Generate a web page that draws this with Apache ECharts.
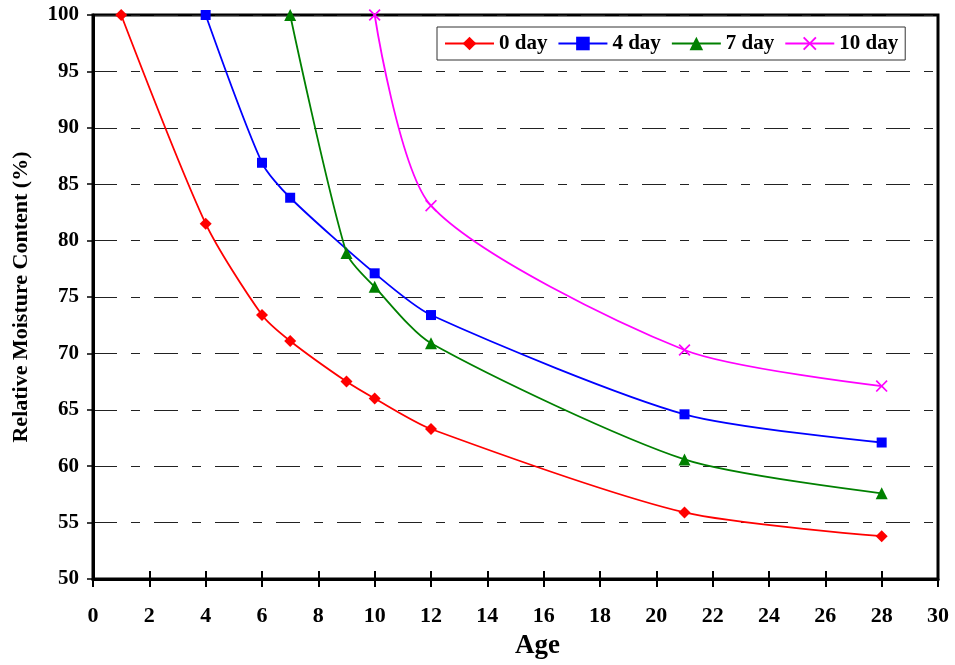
<!DOCTYPE html>
<html>
<head>
<meta charset="utf-8">
<script src="https://cdn.jsdelivr.net/npm/echarts@6/dist/echarts.min.js"></script>
<style>
  html, body { margin: 0; padding: 0; background: #fff; }
  #chart { width: 955px; height: 665px; }
</style>
</head>
<body>
<div id="chart"></div>
<script>
// Curing age (days) and relative moisture content (%) for each drying start day
const seriesNames = ['0 day', '4 day', '7 day', '10 day'];

const age0 = [1, 4, 6, 7, 9, 10, 12, 21, 28];
const rmc0 = [100, 81.5, 73.4, 71.1, 67.5, 66.0, 63.3, 55.9, 53.8];

const age4 = [4, 6, 7, 10, 12, 21, 28];
const rmc4 = [100, 86.9, 83.8, 77.1, 73.4, 64.6, 62.1];

const age7 = [7, 9, 10, 12, 21, 28];
const rmc7 = [100, 78.9, 75.9, 70.9, 60.6, 57.6];

const age10 = [10, 12, 21, 28];
const rmc10 = [100, 83.1, 70.3, 67.1];

const xTicks = { min: 0, max: 30, interval: 2 };
const yTicks = { min: 50, max: 100, interval: 5 };

const FONT = "'Liberation Serif', 'Times New Roman', serif";
const crossPath = 'path://M0,1L1,0L5,4L9,0L10,1L6,5L10,9L9,10L5,6L1,10L0,9L4,5Z';

function pairs(xs, ys) { return xs.map((x, i) => [x, ys[i]]); }

function lineSeries(name, data, color, symbol, size) {
  return {
    name: name,
    type: 'line',
    data: data,
    smooth: 0.25,
    symbol: symbol,
    symbolSize: size,
    showAllSymbol: true,
    lineStyle: { color: color, width: 1.8 },
    itemStyle: { color: color },
    clip: false,
    z: 3
  };
}

const chart = echarts.init(document.getElementById('chart'), null, { renderer: 'canvas' });

chart.setOption({
  animation: false,
  backgroundColor: '#ffffff',
  grid: {
    left: 93, right: 17, top: 15, bottom: 84,
    show: true, borderColor: '#000', borderWidth: 3, backgroundColor: 'transparent'
  },
  legend: {
    left: 437, top: 27,
    orient: 'horizontal',
    padding: [6, 7, 6, 7],
    itemGap: 10,
    itemWidth: 49,
    itemHeight: 17,
    borderColor: '#333', borderWidth: 1,
    backgroundColor: '#fff',
    textStyle: { fontFamily: FONT, fontWeight: 'bold', fontSize: 21, color: '#000' },
    data: seriesNames
  },
  xAxis: [
    {
      type: 'value', min: xTicks.min, max: xTicks.max, interval: xTicks.interval,
      position: 'bottom',
      name: 'Age', nameLocation: 'middle', nameGap: 54,
      nameTextStyle: { fontFamily: FONT, fontWeight: 'bold', fontSize: 27, color: '#000', padding: [0, 0, 0, 44] },
      axisLine: { show: true, lineStyle: { color: '#000', width: 3 } },
      axisTick: { show: true, inside: false, length: 8, lineStyle: { color: '#000', width: 2 } },
      axisLabel: { fontFamily: FONT, fontWeight: 'bold', fontSize: 22, color: '#000', margin: 26 },
      splitLine: { show: false }
    },
    {
      type: 'value', min: xTicks.min, max: xTicks.max, interval: xTicks.interval,
      position: 'bottom',
      axisLine: { show: false },
      axisTick: { show: true, inside: true, length: 8, lineStyle: { color: '#000', width: 2 } },
      axisLabel: { show: false },
      splitLine: { show: false }
    }
  ],
  yAxis: {
    type: 'value', min: yTicks.min, max: yTicks.max, interval: yTicks.interval,
    name: 'Relative Moisture Content (%)', nameLocation: 'middle', nameGap: 61,
    nameRotate: 90,
    nameTextStyle: { fontFamily: FONT, fontWeight: 'bold', fontSize: 22, color: '#000' },
    axisLine: { show: true, lineStyle: { color: '#000', width: 3 } },
    axisTick: { show: true, inside: false, length: 6, lineStyle: { color: '#000', width: 1.5 } },
    axisLabel: { fontFamily: FONT, fontWeight: 'bold', fontSize: 21, color: '#000', margin: 14 },
    splitLine: { show: true, lineStyle: { color: '#222', width: 1, type: [24, 14, 9, 14] } }
  },
  series: [
    lineSeries(seriesNames[0], pairs(age0, rmc0), '#ff0000', 'diamond', [12, 12]),
    lineSeries(seriesNames[1], pairs(age4, rmc4), '#0000ff', 'rect', 10),
    lineSeries(seriesNames[2], pairs(age7, rmc7), '#008000', 'triangle', 12),
    lineSeries(seriesNames[3], pairs(age10, rmc10), '#ff00ff', crossPath, 12)
  ]
});
</script>
</body>
</html>
